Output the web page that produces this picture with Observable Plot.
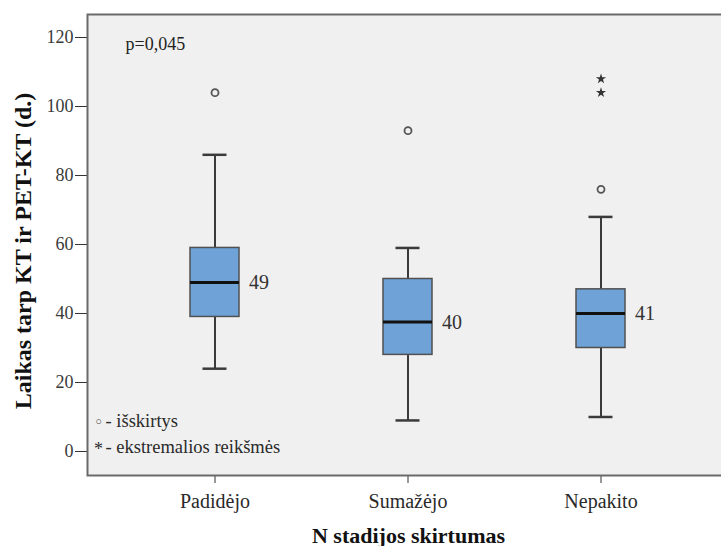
<!DOCTYPE html>
<html>
<head>
<meta charset="utf-8">
<script src="https://cdn.jsdelivr.net/npm/d3@7"></script>
<script src="https://cdn.jsdelivr.net/npm/@observablehq/plot@0.6"></script>
<style>
  html, body { margin: 0; padding: 0; background: #ffffff; overflow: hidden; }
  #chart svg text { font-family: 'Liberation Serif', 'Times New Roman', serif !important; }
  #chart svg g[aria-label^="x-axis"] text { font-size: 20px !important; fill: #2a2a2a; }
  #chart svg g[aria-label^="y-axis"] text { font-size: 18px !important; fill: #3a3a3a; }
  #chart svg text.legsym { font-family: 'DejaVu Sans', sans-serif !important; }
</style>
</head>
<body>
<div id="chart"></div>
<script>
// ---- data ----
const categories = ["Padidėjo", "Sumažėjo", "Nepakito"];
const whiskerLow  = [24, 9, 10];
const q1          = [39, 28, 30];
const median      = [49, 37.5, 40];
const q3          = [59, 50, 47];
const whiskerHigh = [86, 59, 68];
const medianLabels = ["49", "40", "41"];
const outlierCats = ["Padidėjo", "Sumažėjo", "Nepakito"];
const outlierVals = [104, 93, 76];
const extremeCats = ["Nepakito", "Nepakito"];
const extremeVals = [104, 108];
const yTicks = [0, 20, 40, 60, 80, 100, 120];
const pText = "p=0,045";
const yTitle = "Laikas tarp KT ir PET-KT (d.)";
const xTitle = "N stadijos skirtumas";
const legendOutlier = "- išskirtys";
const legendExtreme = "- ekstremalios reikšmės";

const boxes = categories.map((c, i) => ({
  cat: c, lo: whiskerLow[i], q1: q1[i], med: median[i], q3: q3[i], hi: whiskerHigh[i], label: medianLabels[i]
}));
const outliers = outlierCats.map((c, i) => ({cat: c, v: outlierVals[i]}));
const extremes = extremeCats.map((c, i) => ({cat: c, v: extremeVals[i]}));

const serif = "'Liberation Serif', 'Times New Roman', serif";

const chart = Plot.plot({
  width: 721,
  height: 546,
  marginTop: 14,
  marginBottom: 71,
  marginLeft: 87,
  marginRight: 0,
  style: {fontFamily: serif, fontSize: "18px", color: "#333", background: "#ffffff"},
  x: {
    type: "band",
    domain: categories,
    range: [117.75, 698.25],
    paddingInner: 0.745,
    paddingOuter: 0.3725,
    label: null,
    tickSize: 8,
    tickPadding: 10
  },
  y: {
    domain: [-6.96, 126.67],
    ticks: yTicks,
    tickFormat: d => String(d),
    tickSize: 12,
    tickPadding: 2,
    label: null
  },
  marks: [
    Plot.frame({fill: "#f0f0f0", stroke: "#6a6a6a", strokeWidth: 2, insetRight: -3}),
    // whiskers
    Plot.ruleX(boxes, {x: "cat", y1: "lo", y2: "q1", stroke: "#3a3a3a", strokeWidth: 2}),
    Plot.ruleX(boxes, {x: "cat", y1: "q3", y2: "hi", stroke: "#3a3a3a", strokeWidth: 2}),
    Plot.tickY(boxes, {x: "cat", y: "lo", stroke: "#3a3a3a", strokeWidth: 2.5, insetLeft: 12.5, insetRight: 12.5}),
    Plot.tickY(boxes, {x: "cat", y: "hi", stroke: "#3a3a3a", strokeWidth: 2.5, insetLeft: 12.5, insetRight: 12.5}),
    // boxes
    Plot.barY(boxes, {x: "cat", y1: "q1", y2: "q3", fill: "#6fa3d8", stroke: "#505050", strokeWidth: 1.5}),
    // medians
    Plot.tickY(boxes, {x: "cat", y: "med", stroke: "#111", strokeWidth: 3}),
    Plot.text(boxes, {x: "cat", y: "med", text: "label", dx: 34, textAnchor: "start", fontSize: 20, fill: "#333"}),
    // outliers
    Plot.dot(outliers, {x: "cat", y: "v", r: 3.5, stroke: "#555", strokeWidth: 1.8, fill: "none"}),
    Plot.dot(extremes, {x: "cat", y: "v", symbol: "star", r: 3.2, fill: "#333", stroke: "none"}),
    // annotations
    Plot.text([pText], {frameAnchor: "top-left", text: d => d, dx: 38, dy: 30, lineAnchor: "middle", textAnchor: "start", fontSize: 18, fill: "#222"}),
    Plot.text(["○"], {frameAnchor: "bottom-left", text: d => d, dx: 11, dy: -54, lineAnchor: "middle", textAnchor: "middle", fontSize: 11, fill: "#444", className: "legsym"}),
    Plot.text([legendOutlier], {frameAnchor: "bottom-left", text: d => d, dx: 18, dy: -54, lineAnchor: "middle", textAnchor: "start", fontSize: 18.5, fill: "#2a2a2a"}),
    Plot.text(["*"], {frameAnchor: "bottom-left", text: d => d, dx: 11, dy: -26, lineAnchor: "middle", textAnchor: "middle", fontSize: 18, fill: "#2a2a2a"}),
    Plot.text([legendExtreme], {frameAnchor: "bottom-left", text: d => d, dx: 18, dy: -28, lineAnchor: "middle", textAnchor: "start", fontSize: 18.5, fill: "#2a2a2a"}),
    // axis titles
    Plot.text([yTitle], {frameAnchor: "left", text: d => d, rotate: -90, dx: -57, dy: 6, lineAnchor: "bottom", textAnchor: "middle", fontSize: 24, fontWeight: "bold", fill: "#111"}),
    Plot.text([xTitle], {frameAnchor: "bottom", text: d => d, dx: 4, dy: 67, lineAnchor: "bottom", textAnchor: "middle", fontSize: 22, fontWeight: "bold", fill: "#111"})
  ]
});
document.getElementById("chart").appendChild(chart);
</script>
</body>
</html>
